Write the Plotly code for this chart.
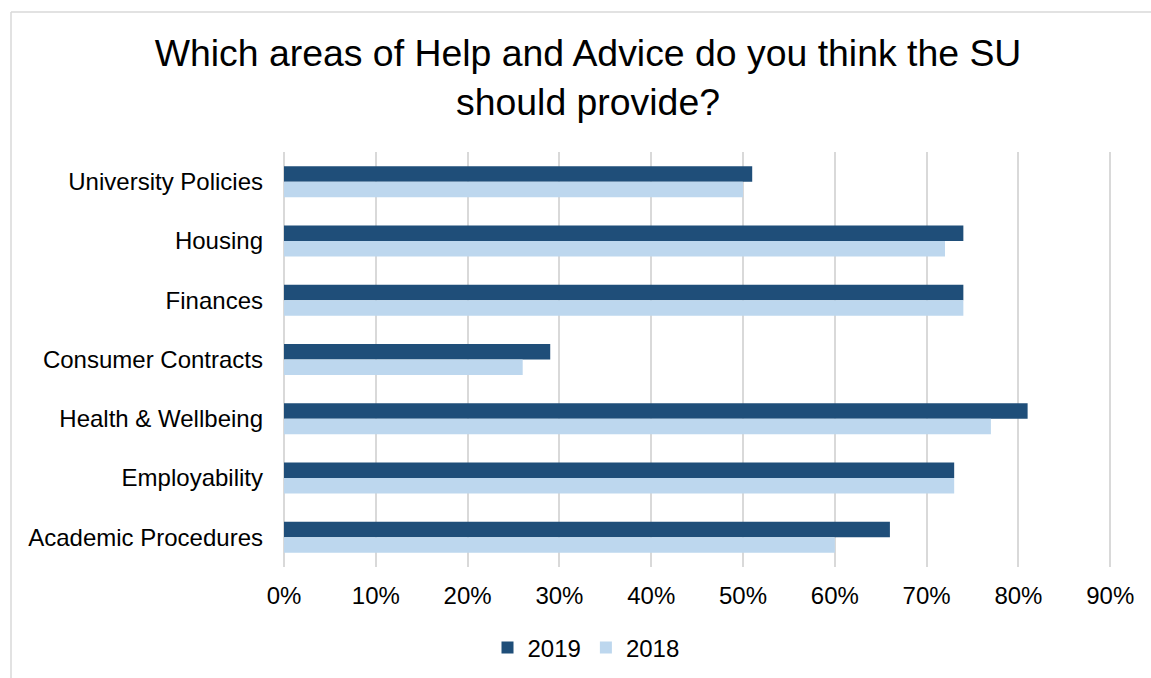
import plotly.graph_objects as go

# Survey responses: share of students wanting each help & advice area
categories = [
    "University Policies",
    "Housing",
    "Finances",
    "Consumer Contracts",
    "Health & Wellbeing",
    "Employability",
    "Academic Procedures",
]
share_2019 = [0.51, 0.74, 0.74, 0.29, 0.81, 0.73, 0.66]
share_2018 = [0.50, 0.72, 0.74, 0.26, 0.77, 0.73, 0.60]
x_ticks = [0, 0.1, 0.2, 0.3, 0.4, 0.5, 0.6, 0.7, 0.8, 0.9]
x_tick_labels = ["0%", "10%", "20%", "30%", "40%", "50%", "60%", "70%", "80%", "90%"]

X_MAX = 0.903  # a hair past 90% so the last gridline is drawn

W, H = 1151, 678
L, T, B = 284, 152, 111
PW = round(826 * X_MAX / 0.9)
R = W - L - PW
PH = H - T - B

def px_x(x):
    return (x - L) / PW

def px_y(y):
    return (H - B - y) / PH

FONT = "Liberation Sans, Arial, sans-serif"
GRID = "#d9d9d9"

fig = go.Figure()
fig.add_trace(go.Bar(
    y=categories, x=share_2019, name="2019", orientation="h",
    marker=dict(color="#1f4e79", line=dict(width=0)),
))
fig.add_trace(go.Bar(
    y=categories, x=share_2018, name="2018", orientation="h",
    marker=dict(color="#bdd7ee", line=dict(width=0)),
))

fig.update_layout(
    width=W, height=H,
    margin=dict(l=L, r=R, t=T, b=B, autoexpand=False),
    paper_bgcolor="white", plot_bgcolor="white",
    font=dict(family=FONT, size=24, color="#000000"),
    barmode="group", bargap=0.477, bargroupgap=0,
    title=dict(
        text="Which areas of Help and Advice do you think the SU<br>should provide?",
        font=dict(family=FONT, size=37.4, color="#000000"),
        x=588 / W, xanchor="center", xref="container",
        y=1 - 66 / H, yanchor="middle", yref="container",
    ),
    xaxis=dict(
        range=[0, X_MAX], tickvals=x_ticks, ticktext=x_tick_labels,
        showgrid=True, gridcolor=GRID, gridwidth=1.5,
        zeroline=True, zerolinecolor=GRID, zerolinewidth=1.5,
        showline=False, ticks="", ticklabelstandoff=12,
        tickfont=dict(size=24), fixedrange=True, automargin=False,
    ),
    yaxis=dict(
        autorange="reversed", showgrid=False, zeroline=False,
        showline=False, ticks="", ticklabelstandoff=20,
        tickfont=dict(size=24), automargin=False,
    ),
    legend=dict(
        orientation="h", x=586 / W, xanchor="center", xref="container",
        y=1 - 648 / H, yanchor="middle", yref="container",
        font=dict(size=24), itemwidth=30, tracegroupgap=0,
    ),
    showlegend=True,
    shapes=[
        # chart frame (top and left edges visible within the page)
        dict(type="line", xref="paper", yref="paper",
             x0=px_x(11), x1=px_x(W + 20), y0=px_y(12), y1=px_y(12),
             line=dict(color=GRID, width=1.5), layer="below"),
        dict(type="line", xref="paper", yref="paper",
             x0=px_x(11), x1=px_x(11), y0=px_y(12), y1=px_y(H + 20),
             line=dict(color=GRID, width=1.5), layer="below"),
    ],
)

fig.write_html("out.html")
